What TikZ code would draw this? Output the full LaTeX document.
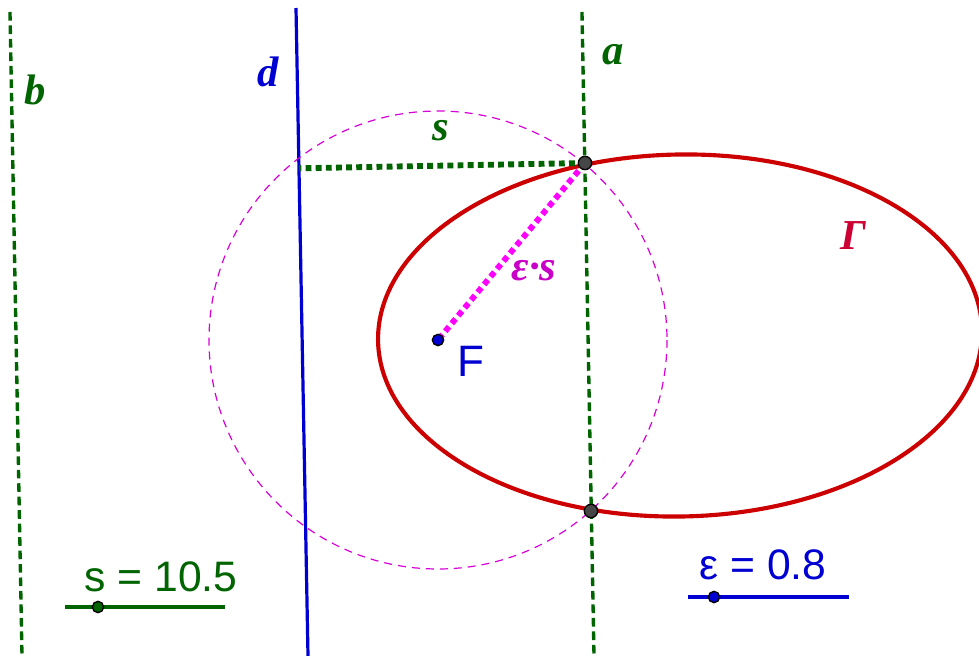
\documentclass[tikz,border=0pt]{standalone}
\usepackage{fontspec}
\setmainfont{Liberation Serif}
\setsansfont{Liberation Sans}
\definecolor{ggreen}{RGB}{0,100,0}
\definecolor{gblue}{RGB}{0,0,210}
\definecolor{gred}{RGB}{204,0,0}
\definecolor{gmag}{RGB}{215,0,215}
\definecolor{gpink}{RGB}{255,0,255}
\definecolor{gpurple}{RGB}{200,0,200}
\definecolor{gcrim}{RGB}{204,0,51}
\definecolor{gdot}{RGB}{70,70,70}
\begin{document}
\begin{tikzpicture}[x=0.75pt,y=-0.75pt,
  gline/.style={draw=ggreen,line width=2.5pt,dash pattern=on 6.5pt off 3.6pt},
  dline/.style={draw=gblue,line width=2.4pt},
  circ/.style={draw=gmag,line width=0.9pt,dash pattern=on 6pt off 4.5pt},
  conic/.style={draw=gred,line width=3.1pt},
  sdot/.style={line width=4.4pt,dash pattern=on 4.4pt off 3.2pt},
  lab/.style={font=\fontsize{32}{36}\selectfont\bfseries\itshape,inner sep=0pt},
  slab/.style={font=\sffamily\fontsize{32}{36}\selectfont,inner sep=0pt},
  pt/.style={circle,draw=black,line width=1pt,inner sep=0pt,minimum size=10pt},
  slider/.style={line width=2.4pt}]
\useasboundingbox (0,0) rectangle (979,656);
\clip (0,0) rectangle (979,656);
% lines
\coordinate (d1) at (296,8);   \coordinate (d2) at (308,656);
\coordinate (a1) at (582,12);  \coordinate (a2) at (594,656);
\coordinate (b1) at (10,12);   \coordinate (b2) at (22,656);
\draw[gline] (b1) -- (b2);
\draw[gline] (a1) -- (a2);
\draw[dline] (d1) -- (d2);
% circle and conic
\coordinate (Fc) at (438,340);
\draw[circ] (Fc) circle [radius=229];
\draw[conic, rotate around={1.06:(680,335.5)}] (680,335.5) ellipse [x radius=302, y radius=181];
% segments
\coordinate (H) at (299,168.3);
\coordinate (P1c) at (585,163);
\draw[sdot,draw=ggreen] (P1c) -- (H);
\draw[sdot,draw=gpink] (P1c) -- (Fc);
% points
\node[pt,fill=gdot] (P1) at (585,163) {};
\node[pt,fill=gdot] (P2) at (591,511) {};
\node[pt,fill=gblue,minimum size=8.5pt] (F) at (438,340) {};
% labels
\node[lab,text=ggreen] (lb) at (35,90) {b};
\node[lab,text=gblue] (ld) at (268,72) {d};
\node[lab,text=ggreen] (la) at (613,55) {a};
\node[lab,text=ggreen] (ls) at (441,131) {s};
\node[lab,text=gcrim] (lG) at (853,236) {Γ};
\node[lab,text=gpurple] (les) at (534,271) {ε·s};
\node[slab,text=gblue,font=\sffamily\fontsize{33}{36}\selectfont] (lF) at (471,361) {F};
% sliders
\node[slab,text=ggreen] (ts) at (161,577) {s = 10.5};
\coordinate (s1) at (65,607); \coordinate (s2) at (225,607);
\draw[slider,draw=ggreen] (s1) -- (s2);
\node[pt,fill=ggreen,minimum size=8.5pt] (sd) at (98,607) {};
\node[slab,text=gblue] (te) at (763,565) {ε = 0.8};
\coordinate (e1) at (688,597); \coordinate (e2) at (849,597);
\draw[slider,draw=gblue] (e1) -- (e2);
\node[pt,fill=gblue,minimum size=8.5pt] (ed) at (714,597) {};
\end{tikzpicture}
\end{document}
